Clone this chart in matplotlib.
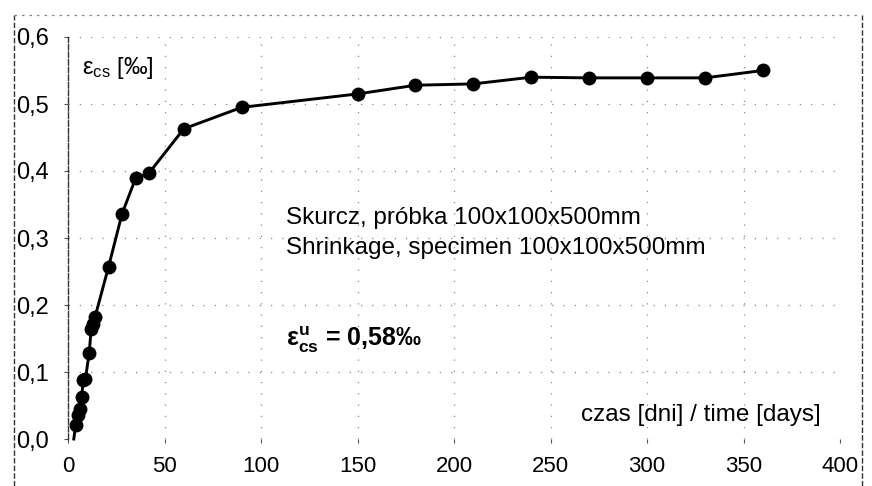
import matplotlib
matplotlib.use("Agg")
import matplotlib.pyplot as plt
from matplotlib.lines import Line2D

plt.rcParams['font.family'] = ['Liberation Sans', 'DejaVu Sans']
plt.rcParams['mathtext.fontset'] = 'custom'
plt.rcParams['mathtext.rm'] = 'Liberation Sans'
plt.rcParams['mathtext.it'] = 'Liberation Sans:italic'
plt.rcParams['mathtext.bf'] = 'Liberation Sans:bold'

# shrinkage measurements (first point is the start of the curve, no marker)
days = [3, 4, 5, 6, 7, 8, 9, 11, 12, 13, 14, 21, 28, 35, 42, 60, 90,
        150, 180, 210, 240, 270, 300, 330, 360]
eps_cs = [0.0, 0.021, 0.036, 0.045, 0.063, 0.088, 0.089, 0.129, 0.164, 0.171, 0.182,
          0.257, 0.336, 0.389, 0.397, 0.463, 0.495,
          0.515, 0.528, 0.530, 0.540, 0.539, 0.539, 0.539, 0.550]

x_ticks = [0, 50, 100, 150, 200, 250, 300, 350, 400]
y_ticks = [0.0, 0.1, 0.2, 0.3, 0.4, 0.5, 0.6]
y_labels = ['0,0', '0,1', '0,2', '0,3', '0,4', '0,5', '0,6']

fig = plt.figure(figsize=(8.72, 4.86), dpi=100)
ax = fig.add_axes([68 / 872, 1 - 439 / 486, (840 - 68) / 872, (439 - 37) / 486])

ax.plot(days, eps_cs, color='black', lw=2.1, marker='o', ms=9,
        markevery=list(range(1, len(days))), zorder=3, clip_on=False)

ax.set_xlim(0, 400)
ax.set_ylim(0, 0.6)
ax.set_xticks(x_ticks)
ax.set_xticklabels([str(t) for t in x_ticks])
ax.set_yticks(y_ticks)
ax.set_yticklabels(y_labels)
ax.tick_params(axis='both', length=3, width=0.8, color='#555')
ax.tick_params(axis='y', labelsize=17, pad=11)
ax.tick_params(axis='x', labelsize=16, pad=9)

ax.grid(True, color='#888', linestyle=(0, (1, 8)), lw=0.9)
for s in ['top', 'right', 'bottom']:
    ax.spines[s].set_visible(False)
ax.spines['left'].set_color('#333')
ax.spines['left'].set_linestyle((0, (4, 1.5)))
ax.spines['left'].set_linewidth(1.0)

# outer chart frame
fig.add_artist(Line2D([14 / 872, 14 / 872], [0, 1 - 15 / 486], color='#333',
                      lw=1.0, ls=(0, (4, 1.5))))
fig.add_artist(Line2D([862 / 872, 862 / 872], [0, 1 - 15 / 486], color='#333',
                      lw=1.0, ls=(0, (4, 1.5))))
fig.add_artist(Line2D([14 / 872, 862 / 872], [1 - 15 / 486, 1 - 15 / 486], color='#888',
                      lw=0.9, ls=(0, (2, 4))))

ax.text(7, 0.554, r'$\mathrm{ε}_{\mathrm{cs}}$ [‰]', fontsize=17, va='center', ha='left')
ax.text(113, 0.330, 'Skurcz, próbka 100x100x500mm', fontsize=17.5, va='center', ha='left')
ax.text(113, 0.285, 'Shrinkage, specimen 100x100x500mm', fontsize=17.5, va='center', ha='left')
ax.text(113, 0.148, r'$\mathbf{ε}_{\mathbf{cs}}^{\mathbf{u}}$ = 0,58‰', fontsize=18,
        fontweight='bold', va='center', ha='left')
ax.text(390, 0.036, 'czas [dni] / time [days]', fontsize=17.5, va='center', ha='right')

fig.savefig('out.png', dpi=100)
